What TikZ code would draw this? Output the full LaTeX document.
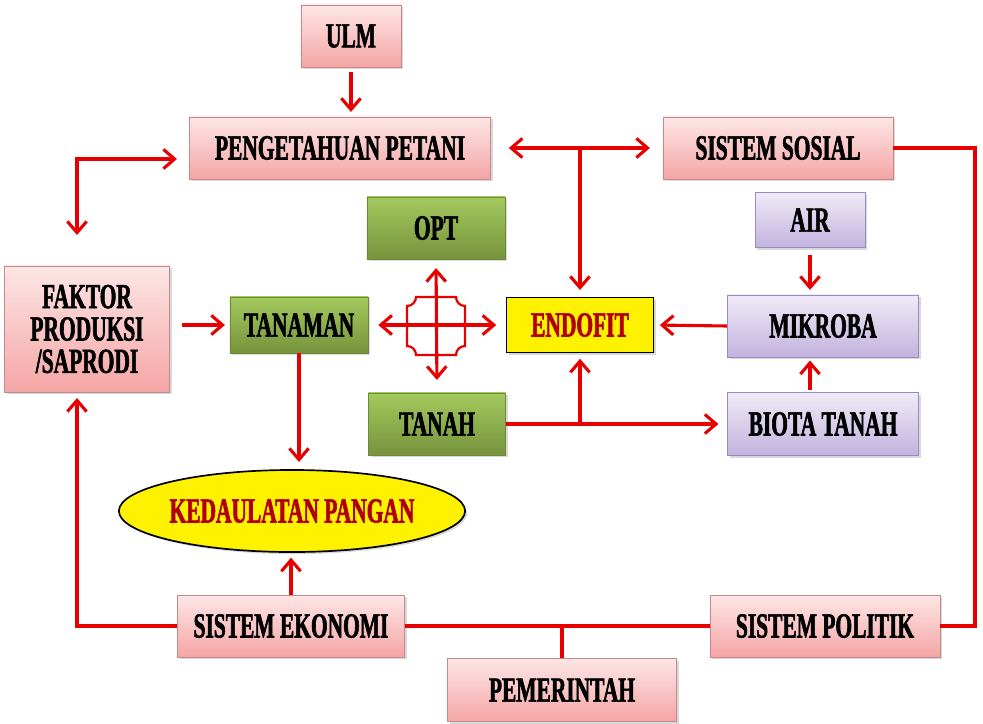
\documentclass[tikz,border=0pt]{standalone}
\usepackage{fontspec}
\setmainfont{Liberation Serif}[FakeStretch=0.61,BoldFeatures={FakeBold=1.6}]
\usetikzlibrary{arrows.meta,shadows,shapes.geometric}

\definecolor{pinktop}{HTML}{FDE6E6}
\definecolor{pinkbot}{HTML}{F5A5A5}
\definecolor{pinkline}{HTML}{C48A8A}
\definecolor{greentop}{HTML}{A4C95E}
\definecolor{greenbot}{HTML}{76933C}
\definecolor{greenline}{HTML}{6E8A38}
\definecolor{lilatop}{HTML}{F0EBF7}
\definecolor{lilabot}{HTML}{C2B2DE}
\definecolor{lilaline}{HTML}{9A8AC4}
\definecolor{linkred}{HTML}{E80000}
\definecolor{textred}{HTML}{B00000}

\begin{document}
\begin{tikzpicture}[x=0.025cm, y=-0.025cm,
  font=\fontsize{25}{23}\selectfont\bfseries,
  >={Straight Barb[length=2.8mm,width=4.8mm]},
  boxshadow/.style={drop shadow={opacity=0.3, shadow xshift=1.5pt, shadow yshift=-1.5pt}},
  pinkbox/.style={draw=pinkline, top color=pinktop, bottom color=pinkbot, inner sep=0pt, align=center, boxshadow},
  greenbox/.style={draw=greenline, top color=greentop, bottom color=greenbot, inner sep=0pt, boxshadow},
  lilabox/.style={draw=lilaline, top color=lilatop, bottom color=lilabot, inner sep=0pt, boxshadow},
  yellowbox/.style={draw=black, fill=yellow, text=textred, inner sep=0pt, boxshadow},
  link/.style={draw=linkred, line width=2.2pt},
  plainline/.style={draw=linkred, line width=2.2pt}]
\useasboundingbox (0,0) rectangle (983,723);

% boxes
\node[pinkbox, minimum width=2.5cm, minimum height=1.55cm] (ulm) at (351,36) {ULM};
\node[pinkbox, minimum width=7.525cm, minimum height=1.55cm] (peng) at (340,148) {PENGETAHUAN PETANI};
\node[pinkbox, minimum width=5.75cm, minimum height=1.55cm] (sosial) at (778,148) {SISTEM SOSIAL};
\node[greenbox, minimum width=3.45cm, minimum height=1.55cm] (opt) at (436,228) {OPT};
\node[lilabox, minimum width=2.75cm, minimum height=1.375cm] (air) at (810,220) {AIR};
\node[pinkbox, minimum width=4.125cm, minimum height=3.15cm] (faktor) at (87,329) {FAKTOR\\PRODUKSI\\/SAPRODI};
\node[greenbox, minimum width=3.45cm, minimum height=1.4cm] (tanaman) at (299,325) {TANAMAN};
\node[yellowbox, minimum width=3.675cm, minimum height=1.375cm] (endofit) at (580,325) {ENDOFIT};
\node[lilabox, minimum width=4.775cm, minimum height=1.55cm] (mikroba) at (823,326) {MIKROBA};
\node[greenbox, minimum width=3.425cm, minimum height=1.55cm] (tanah) at (437,424) {TANAH};
\node[lilabox, minimum width=4.775cm, minimum height=1.575cm] (biota) at (823,424) {BIOTA TANAH};
\node[ellipse, draw=black, line width=1.2pt, fill=yellow, text=textred, inner sep=0pt, minimum width=8.525cm, minimum height=2.05cm, boxshadow] (kedaulatan) at (292,511) {KEDAULATAN PANGAN};
\node[pinkbox, minimum width=5.675cm, minimum height=1.55cm] (ekonomi) at (291,626) {SISTEM EKONOMI};
\node[pinkbox, minimum width=5.75cm, minimum height=1.55cm] (politik) at (825,626) {SISTEM POLITIK};
\node[pinkbox, minimum width=5.725cm, minimum height=1.575cm] (pemerintah) at (562,690) {PEMERINTAH};

% free ends
\coordinate (fktop) at (77,235);
\coordinate (pgin) at (177,159);
\coordinate (fkbot) at (77,398);
\coordinate (sosjoint) at (580,148);
\coordinate (tanjoint) at (580,424);
\coordinate (rightside) at (975,626);

% arrows
\draw[link,->,shorten <=1.2mm,shorten >=1.2mm] (ulm.south) -- (ulm.south |- peng.north);
\draw[link,<->] (fktop) |- (pgin);
\draw[link,<->,shorten <=4.5mm,shorten >=3.2mm] (peng.east) -- (sosial.west);
\draw[link,->,shorten >=1.8mm] (sosjoint) -- (endofit.north);
\draw[plainline] (sosial.east) -| (rightside) -- (politik.east);
\draw[link,->,shorten <=1.8mm,shorten >=1.2mm] (air.south) -- (air.south |- mikroba.north);
\draw[link,->,shorten >=1.5mm] (mikroba.west) -- (endofit.east);
\draw[link,->,shorten <=0.5mm,shorten >=0.8mm] (air.south |- biota.north) -- (air.south |- mikroba.south);
\draw[link,->,shorten >=2.2mm] (tanah.east) -- (biota.west);
\draw[link,->,shorten >=1.5mm] (tanjoint) -- (endofit.south);
\draw[link,->,shorten <=3mm,shorten >=1.2mm] (faktor.east |- tanaman.west) -- (tanaman.west);
\draw[link,->,shorten >=1.8mm] (tanaman.south) -- (tanaman.south |- kedaulatan.north);
\draw[link,<->,shorten <=2.5mm,shorten >=2.5mm] (tanaman.east) -- (endofit.west);
\draw[link,<->,shorten <=2.2mm,shorten >=3.2mm] (opt.south) -- (tanah.north);
\draw[link,->,shorten >=1.2mm] (ekonomi.north) -- (ekonomi.north |- kedaulatan.south);
\draw[link,->] (ekonomi.west) -| (fkbot);
\draw[plainline] (ekonomi.east) -- (politik.west);
\draw[plainline] (pemerintah.north) -- (pemerintah.north |- ekonomi.east);

% interaction sign
\draw[linkred, line width=1.6pt] (436,326) ++(-20,-29) -- ++(40,0)
  arc[start angle=180, end angle=90, radius=9] -- ++(0,40)
  arc[start angle=270, end angle=180, radius=9] -- ++(-40,0)
  arc[start angle=360, end angle=270, radius=9] -- ++(0,-40)
  arc[start angle=90, end angle=0, radius=9] -- cycle;
\end{tikzpicture}
\end{document}
